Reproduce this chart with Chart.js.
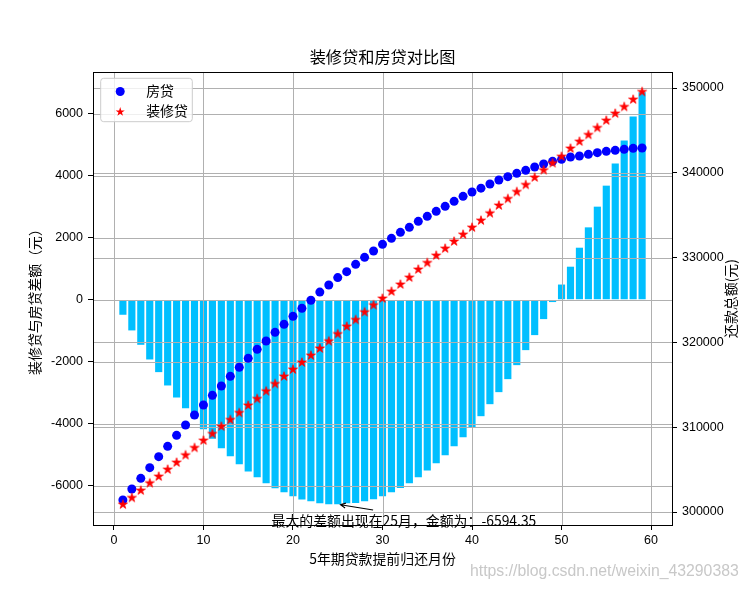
<!DOCTYPE html>
<html>
<head>
<meta charset="utf-8">
<script src="https://cdn.jsdelivr.net/npm/chart.js@4.4.0/dist/chart.umd.min.js"></script>
<style>
  html, body { margin: 0; padding: 0; background: #fff; }
  canvas { display: block; }
</style>
</head>
<body>
<canvas id="chart" width="746" height="590"></canvas>
<script>
// months 1..59 of early repayment
const months = [1, 2, 3, 4, 5, 6, 7, 8, 9, 10, 11, 12, 13, 14, 15, 16, 17, 18, 19, 20,
  21, 22, 23, 24, 25, 26, 27, 28, 29, 30, 31, 32, 33, 34, 35, 36, 37, 38, 39, 40,
  41, 42, 43, 44, 45, 46, 47, 48, 49, 50, 51, 52, 53, 54, 55, 56, 57, 58, 59];

// 装修贷 - 房贷 (left axis)
const diffAmounts = [-484, -989, -1452, -1925, -2333, -2763, -3151, -3495, -3820, -4174,
  -4484, -4785, -5043, -5301, -5538, -5720, -5914, -6075, -6204, -6333,
  -6441, -6495, -6559, -6591, -6594.35, -6559, -6548, -6495, -6430, -6333,
  -6204, -6065, -5914, -5720, -5505, -5269, -5011, -4720, -4430, -4108,
  -3753, -3366, -2978, -2559, -2108, -1624, -1140, -624, -75, 490,
  1065, 1677, 2333, 3000, 3677, 4387, 5129, 5903, 6688];

// 还款总额 (right axis)
const houseLoanTotals = [301415, 302712, 303970, 305228, 306525, 307744, 309040, 310259, 311438, 312618,
  313758, 314858, 316000, 317060, 318120, 319183, 320165, 321190, 322130, 323076,
  324020, 324965, 325930, 326769, 327640, 328341, 329206, 330031, 330778, 331565,
  332272, 332980, 333569, 334277, 334866, 335456, 336045, 336635, 337225, 337736,
  338190, 338679, 339151, 339544, 339937, 340291, 340684, 341038, 341352, 341588,
  341863, 341981, 342177, 342374, 342531, 342649, 342767, 342885, 342925];

const decorLoanTotals = [300943, 301730, 302594, 303460, 304245, 305070, 305896, 306760, 307626, 308490,
  309276, 310141, 310927, 311753, 312618, 313404, 314303, 315165, 316038, 316863,
  317689, 318514, 319340, 320200, 321045, 321934, 322720, 323626, 324450, 325236,
  326061, 326887, 327712, 328656, 329442, 330306, 331132, 331958, 332783, 333608,
  334434, 335295, 336203, 336989, 337815, 338640, 339505, 340370, 341195, 341981,
  342925, 343750, 344536, 345362, 346226, 347052, 347838, 348703, 349607];

const monthTicks = [0, 10, 20, 30, 40, 50, 60];
const diffTicks = [-6000, -4000, -2000, 0, 2000, 4000, 6000];
const totalTicks = [300000, 310000, 320000, 330000, 340000, 350000];

const maxDiffMonth = 25;
const maxDiffAmount = -6594.35;

const CJK = '"Noto Sans CJK SC", sans-serif';
const NUM = '"Liberation Sans", "Noto Sans CJK SC", sans-serif';

function starPath(ctx, cx, cy, r) {
  const inner = r * 0.381966;
  ctx.beginPath();
  for (let i = 0; i < 10; i++) {
    const rad = i % 2 ? inner : r;
    const a = -Math.PI / 2 + i * Math.PI / 5;
    const px = cx + rad * Math.cos(a), py = cy + rad * Math.sin(a);
    if (i) ctx.lineTo(px, py); else ctx.moveTo(px, py);
  }
  ctx.closePath();
}

function makeStar(r, color) {
  const size = 14;
  const c = document.createElement('canvas');
  c.width = size; c.height = size;
  const g = c.getContext('2d');
  starPath(g, size / 2, size / 2 + 0.5, r);
  g.fillStyle = color; g.fill();
  g.lineWidth = 0.7; g.strokeStyle = color; g.stroke();
  return c;
}
const starImg = makeStar(4.8, '#ff0000');

const fixTicks = values => scale => { scale.ticks = values.map(v => ({ value: v })); };

// grid over the bars (as matplotlib does), then frame; legend and texts on top
const decor = {
  id: 'decor',
  afterDatasetDraw(chart, args) {
    if (args.index !== 0) return;
    const { ctx, chartArea: a, scales } = chart;
    ctx.save();
    ctx.strokeStyle = '#b0b0b0';
    ctx.lineWidth = 1;
    ctx.beginPath();
    scales.x.ticks.forEach(t => {
      const px = Math.round(scales.x.getPixelForValue(t.value)) + 0.5;
      ctx.moveTo(px, a.top); ctx.lineTo(px, a.bottom);
    });
    [scales.y, scales.y2].forEach(s => s.ticks.forEach(t => {
      const py = Math.round(s.getPixelForValue(t.value)) + 0.5;
      ctx.moveTo(a.left, py); ctx.lineTo(a.right, py);
    }));
    ctx.stroke();
    ctx.strokeStyle = '#000';
    ctx.strokeRect(a.left + 0.5, a.top + 0.5, a.right - a.left, a.bottom - a.top);
    ctx.restore();
  },
  afterDraw(chart) {
    const { ctx, chartArea: a, scales } = chart;
    ctx.save();

    // title
    ctx.fillStyle = '#000';
    ctx.font = '16.2px ' + CJK;
    ctx.textAlign = 'center';
    ctx.textBaseline = 'middle';
    ctx.fillText('装修贷和房贷对比图', (a.left + a.right) / 2, 57);

    // right axis title
    ctx.save();
    ctx.translate(731, (a.top + a.bottom) / 2);
    ctx.rotate(-Math.PI / 2);
    ctx.font = '13.9px ' + CJK;
    ctx.fillText('还款总额(元)', 0, 0);
    ctx.restore();

    // annotation
    const hx = scales.x.getPixelForValue(maxDiffMonth);
    const hy = scales.y.getPixelForValue(maxDiffAmount);
    const tx = scales.x.getPixelForValue(28.95);
    const ty = scales.y.getPixelForValue(-6775);
    const ang = Math.atan2(hy - ty, hx - tx);
    const ex = hx - 2.8 * Math.cos(ang), ey = hy - 2.8 * Math.sin(ang);
    ctx.strokeStyle = '#000';
    ctx.lineWidth = 1.1;
    ctx.beginPath();
    ctx.moveTo(tx, ty); ctx.lineTo(ex, ey);
    ctx.moveTo(ex - 5.6 * Math.cos(ang - 0.46), ey - 5.6 * Math.sin(ang - 0.46));
    ctx.lineTo(ex, ey);
    ctx.lineTo(ex - 5.6 * Math.cos(ang + 0.46), ey - 5.6 * Math.sin(ang + 0.46));
    ctx.stroke();
    ctx.font = '13.9px ' + CJK;
    ctx.textAlign = 'left';
    ctx.fillText('最大的差额出现在' + maxDiffMonth + '月，金额为：' + maxDiffAmount,
      scales.x.getPixelForValue(17.6), scales.y.getPixelForValue(-7120));

    // legend
    const lx = a.left + 7.7, ly = a.top + 6.3, lw = 91.6, lh = 43.4;
    ctx.beginPath();
    ctx.roundRect(lx, ly, lw, lh, 3);
    ctx.fillStyle = 'rgba(255,255,255,0.8)';
    ctx.fill();
    ctx.strokeStyle = '#cccccc';
    ctx.lineWidth = 1;
    ctx.stroke();
    ctx.fillStyle = '#0000ff';
    ctx.beginPath();
    ctx.arc(lx + 19.5, ly + 13.2, 4.5, 0, Math.PI * 2);
    ctx.fill();
    starPath(ctx, lx + 19.5, ly + 33.6, 4.8);
    ctx.fillStyle = '#ff0000';
    ctx.fill();
    ctx.fillStyle = '#000';
    ctx.font = '13.9px ' + CJK;
    ctx.fillText('房贷', lx + 45.5, ly + 12.8);
    ctx.fillText('装修贷', lx + 45.5, ly + 32.6);

    // watermark
    ctx.fillStyle = '#c8c8c8';
    ctx.font = '15.8px ' + NUM;
    ctx.fillText('https://blog.csdn.net/weixin_43290383', 470, 572);
    ctx.restore();
  }
};

new Chart(document.getElementById('chart'), {
  type: 'bar',
  data: {
    datasets: [
      {
        label: '差额',
        data: months.map((m, i) => ({ x: m, y: diffAmounts[i] })),
        backgroundColor: '#00bfff',
        borderWidth: 0,
        categoryPercentage: 1,
        barPercentage: 0.8,
        yAxisID: 'y',
        order: 3
      },
      {
        type: 'scatter',
        label: '房贷',
        data: months.map((m, i) => ({ x: m, y: houseLoanTotals[i] })),
        backgroundColor: '#0000ff',
        borderWidth: 0,
        pointRadius: 4.5,
        yAxisID: 'y2',
        order: 2
      },
      {
        type: 'scatter',
        label: '装修贷',
        data: months.map((m, i) => ({ x: m, y: decorLoanTotals[i] })),
        pointStyle: starImg,
        yAxisID: 'y2',
        order: 1
      }
    ]
  },
  options: {
    responsive: false,
    devicePixelRatio: 1,
    animation: false,
    layout: { padding: { top: 72, left: 0, right: 0, bottom: 0 } },
    plugins: { legend: { display: false }, title: { display: false }, tooltip: { enabled: false } },
    scales: {
      x: {
        type: 'linear',
        min: -2.34,
        max: 62.34,
        offset: false,
        afterBuildTicks: fixTicks(monthTicks),
        afterFit: s => { s.height = 65; },
        grid: { drawOnChartArea: false, offset: false, tickLength: 5, color: '#000' },
        border: { display: false },
        ticks: { color: '#000', padding: 3.5, maxRotation: 0, font: { family: NUM, size: 12.5 } },
        title: {
          display: true,
          text: '5年期贷款提前归还月份',
          color: '#000',
          font: { family: CJK, size: 13.9 },
          padding: { top: 0, bottom: 23.2 }
        }
      },
      y: {
        position: 'left',
        min: -7260,
        max: 7340,
        afterBuildTicks: fixTicks(diffTicks),
        afterFit: s => { s.width = 93; },
        grid: { drawOnChartArea: false, tickLength: 5, color: '#000' },
        border: { display: false },
        ticks: { color: '#000', padding: 5, font: { family: NUM, size: 12.5 }, callback: v => String(v) },
        title: {
          display: true,
          text: '装修贷与房贷差额（元）',
          color: '#000',
          font: { family: CJK, size: 13.9 },
          padding: { top: 26.7, bottom: 0 }
        }
      },
      y2: {
        position: 'right',
        min: 298467,
        max: 351887,
        afterBuildTicks: fixTicks(totalTicks),
        afterFit: s => { s.width = 74; },
        grid: { drawOnChartArea: false, tickLength: 5, color: '#000' },
        border: { display: false },
        ticks: { color: '#000', padding: 5, font: { family: NUM, size: 12.5 }, callback: v => String(v) }
      }
    }
  },
  plugins: [decor]
});
</script>
</body>
</html>
